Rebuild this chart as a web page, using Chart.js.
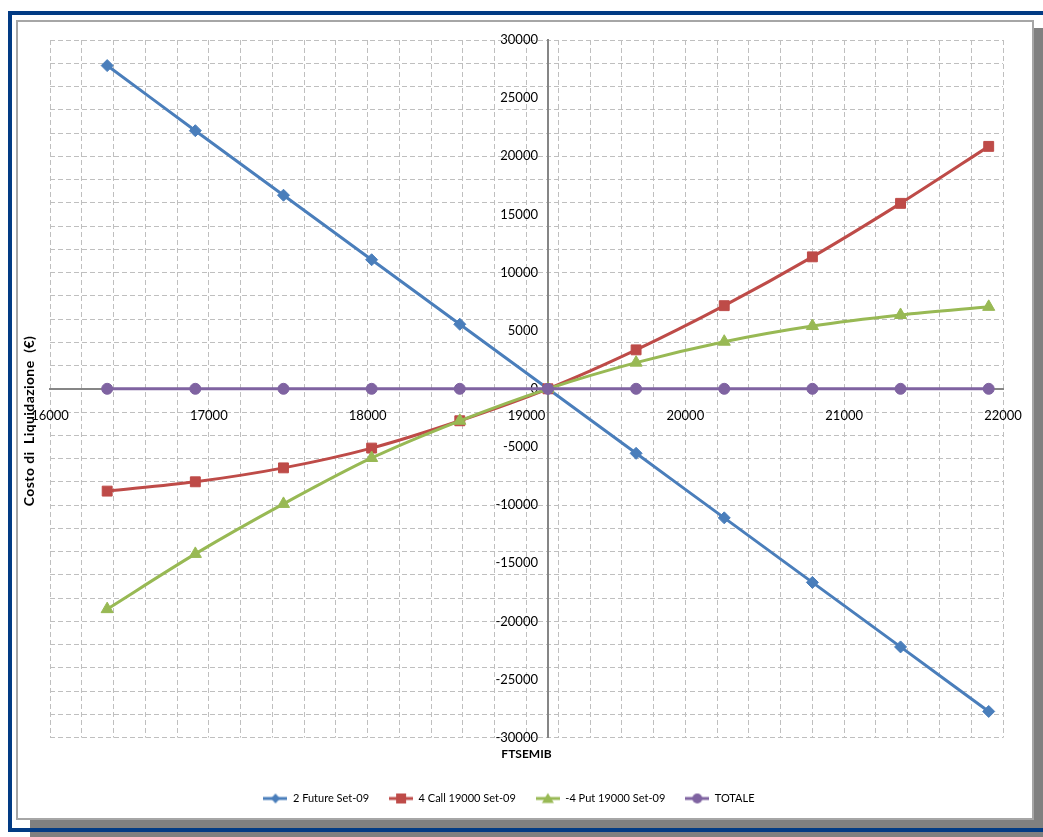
<!DOCTYPE html>
<html lang="it">
<head>
<meta charset="utf-8">
<title>Costo di Liquidazione</title>
<script src="https://cdn.jsdelivr.net/npm/chart.js@4.4.1/dist/chart.umd.min.js"></script>
<style>
  html, body { margin: 0; padding: 0; background: #fff; overflow: hidden; }
  body { width: 1043px; height: 837px; position: relative; }
  #shadow { position: absolute; left: 30px; top: 28px; width: 1020px; height: 822px; background: #808080; }
  #sheet { position: absolute; left: 16px; top: 20px; width: 1018px; height: 800px; box-sizing: border-box; background: #fff; border: 2px solid #a6a6a6; }
  #frame { position: absolute; left: 8px; top: 11px; width: 1040px; height: 821px; box-sizing: border-box; border: 4px solid #023b84; }
  #wrap { position: absolute; left: 0; top: 0; width: 1043px; height: 837px; }
</style>
</head>
<body>
<div id="shadow"></div>
<div id="sheet"></div>
<div id="frame"></div>
<div id="wrap"><canvas id="chart"></canvas></div>
<script>
// FTSE MIB levels of the scenario grid
const ftsemib = [16360, 16915, 17470, 18025, 18580, 19135, 19690, 20245, 20800, 21355, 21910];

// Liquidation cost of each leg (EUR)
const future = [27800, 22200, 16650, 11100, 5550, 0, -5550, -11100, -16650, -22200, -27750];
const call   = [-8800, -8000, -6800, -5100, -2750, 0, 3350, 7150, 11350, 15950, 20850];
const put    = [-18950, -14200, -9900, -5950, -2750, 0, 2250, 4050, 5400, 6350, 7050];
const totale = [0, 0, 0, 0, 0, 0, 0, 0, 0, 0, 0];

const seriesNames = ['2 Future Set-09', '4 Call 19000 Set-09', '-4 Put 19000 Set-09', 'TOTALE'];

// Labelled ticks
const xTickLabels = [16000, 17000, 18000, 19000, 20000, 21000, 22000];
const yTickLabels = [-30000, -25000, -20000, -15000, -10000, -5000, 0, 5000, 10000, 15000, 20000, 25000, 30000];

// Spacing of the dashed grid
const xGridStep = 200;
const yGridStep = 2000;

// The value axis crosses the FTSEMIB axis at the current index level
const yAxisCross = 19135;

const COLORS = {
  future: '#4a7ebb',
  call: '#be4b48',
  put: '#98b954',
  totale: '#7f63a1'
};
const GRID = '#bfbfbf';
const AXIS = '#868686';
const FONT = 'Lato, "Liberation Sans", Arial, sans-serif';

Chart.defaults.font.family = FONT;
Chart.defaults.color = '#000';

const toPoints = vals => vals.map((v, i) => ({ x: ftsemib[i], y: v }));

// Small swatch (line + marker) used as legend symbol
function swatch(color, marker) {
  const c = document.createElement('canvas');
  c.width = 24; c.height = 14;
  const g = c.getContext('2d');
  g.strokeStyle = color; g.fillStyle = color; g.lineWidth = 3;
  g.beginPath(); g.moveTo(0, 7); g.lineTo(24, 7); g.stroke();
  const cx = 12, cy = 7;
  g.beginPath();
  if (marker === 'rectRot') {
    g.moveTo(cx, cy - 5); g.lineTo(cx + 4.5, cy); g.lineTo(cx, cy + 5); g.lineTo(cx - 4.5, cy);
  } else if (marker === 'rect') {
    g.rect(cx - 5, cy - 5, 10, 10);
  } else if (marker === 'triangle') {
    g.moveTo(cx, cy - 5.5); g.lineTo(cx + 6, cy + 4.5); g.lineTo(cx - 6, cy + 4.5);
  } else {
    g.arc(cx, cy, 5, 0, Math.PI * 2);
  }
  g.closePath(); g.fill();
  return c;
}

const markers = ['rectRot', 'rect', 'triangle', 'circle'];
const palette = [COLORS.future, COLORS.call, COLORS.put, COLORS.totale];
const legendSymbols = palette.map((c, i) => swatch(c, markers[i]));

function lineSet(label, vals, color, marker, radius, order) {
  return {
    label,
    data: toPoints(vals),
    borderColor: color,
    backgroundColor: color,
    borderWidth: 3,
    pointStyle: marker,
    pointRadius: radius,
    pointHoverRadius: radius,
    pointBorderWidth: 1,
    pointBorderColor: color,
    pointBackgroundColor: color,
    tension: 0.3,
    order
  };
}

// Value-axis title, drawn vertically at the left edge of the sheet
const axisTitles = {
  id: 'axisTitles',
  afterDraw(chart) {
    const { ctx } = chart;
    ctx.save();
    ctx.fillStyle = '#000';
    ctx.font = 'bold 14px ' + FONT;
    ctx.letterSpacing = '0.4px';
    ctx.textAlign = 'center';
    ctx.textBaseline = 'middle';
    ctx.translate(29, 421);
    ctx.rotate(-Math.PI / 2);
    ctx.fillText('Costo di  Liquidazione  (€)', 0, 0);
    ctx.restore();
  }
};

new Chart(document.getElementById('chart'), {
  type: 'line',
  data: {
    datasets: [
      lineSet(seriesNames[0], future, COLORS.future, 'rectRot', 6, 4),
      lineSet(seriesNames[1], call, COLORS.call, 'rect', 7, 3),
      lineSet(seriesNames[2], put, COLORS.put, 'triangle', 7, 2),
      lineSet(seriesNames[3], totale, COLORS.totale, 'circle', 5.5, 1)
    ]
  },
  plugins: [axisTitles],
  options: {
    responsive: true,
    maintainAspectRatio: false,
    animation: false,
    layout: { padding: { left: 15, right: 40, top: 40, bottom: 23 } },
    scales: {
      x: {
        type: 'linear',
        position: { y: 0 },
        min: 16000,
        max: 22000,
        grid: {
          color: GRID,
          lineWidth: 1,
          drawTicks: false
        },
        border: { display: true, color: AXIS, width: 2, dash: [5, 3] },
        afterBuildTicks(scale) {
          const t = [];
          for (let v = 16000; v <= 22000; v += xGridStep) t.push({ value: v });
          scale.ticks = t;
        },
        ticks: {
          autoSkip: false,
          maxRotation: 0,
          padding: 19,
          font: { size: 13 },
          callback: v => (xTickLabels.includes(v) ? String(v) : '')
        }
      },
      y: {
        type: 'linear',
        position: { x: yAxisCross },
        min: -30000,
        max: 30000,
        grid: {
          color: ctx => (ctx.tick && ctx.tick.value % yGridStep === 0 ? GRID : 'rgba(0,0,0,0)'),
          lineWidth: 1,
          drawTicks: false
        },
        border: { display: true, color: AXIS, width: 2, dash: [5, 3] },
        afterBuildTicks(scale) {
          const vals = new Set(yTickLabels);
          for (let v = -30000; v <= 30000; v += yGridStep) vals.add(v);
          scale.ticks = [...vals].sort((a, b) => a - b).map(v => ({ value: v }));
        },
        ticks: {
          autoSkip: false,
          padding: 10,
          font: { size: 13 },
          // trailing gap keeps the labels clear of the axis line
          callback: v => (yTickLabels.includes(v) ? String(v) + '   ' : '')
        }
      },
      pad: {
        type: 'linear',
        position: 'left',
        display: true,
        grid: { display: false },
        border: { display: false },
        ticks: { display: false },
        afterFit(scale) { scale.width = 35; }
      }
    },
    plugins: {
      tooltip: { enabled: false },
      title: {
        display: true,
        text: 'FTSEMIB',
        position: 'bottom',
        fullSize: false,
        weight: 500,
        color: '#000',
        font: { size: 12, weight: 'bold' },
        padding: { top: 9, bottom: 12 }
      },
      legend: {
        position: 'bottom',
        weight: 1000,
        labels: {
          usePointStyle: true,
          pointStyleWidth: 24,
          padding: 20,
          color: '#000',
          font: { size: 11 },
          generateLabels: () => seriesNames.map((name, i) => ({
            text: name,
            pointStyle: legendSymbols[i],
            fillStyle: palette[i],
            strokeStyle: palette[i],
            lineWidth: 0,
            hidden: false,
            datasetIndex: i
          }))
        }
      }
    }
  }
});
</script>
</body>
</html>
